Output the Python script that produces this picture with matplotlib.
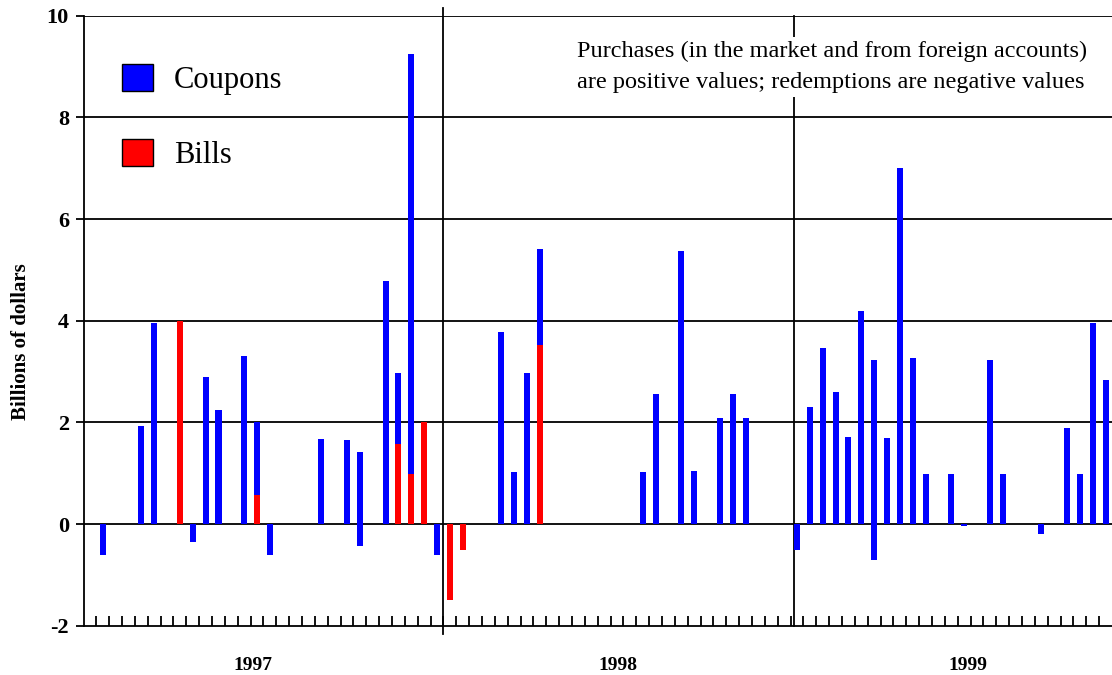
import matplotlib
matplotlib.use("Agg")
import matplotlib.pyplot as plt
from matplotlib.patches import Patch
import numpy as np

# ---- data (period index -> value, billions of dollars) ----
n_periods = 80
# coupon purchases (positive), stacked on top of bill purchases
coupon_pos = {4: 1.92, 5: 3.96, 9: 2.90, 10: 2.24, 12: 3.30, 13: 1.42, 18: 1.68,
              20: 1.65, 21: 1.41, 23: 4.79, 24: 1.41, 25: 8.26,
              32: 3.77, 33: 1.02, 34: 2.98, 35: 1.89, 43: 1.02, 44: 2.55,
              46: 5.38, 47: 1.05, 49: 2.08, 50: 2.55, 51: 2.08,
              56: 2.31, 57: 3.46, 58: 2.59, 59: 1.72, 60: 4.20, 61: 3.22,
              62: 1.69, 63: 7.00, 64: 3.26, 65: 0.98, 67: 0.98, 70: 3.22,
              71: 0.98, 76: 1.88, 77: 0.98, 78: 3.96, 79: 2.83}
# coupon redemptions (negative)
coupon_neg = {1: -0.60, 8: -0.36, 14: -0.60, 21: -0.44, 27: -0.60,
              55: -0.52, 61: -0.71, 68: -0.04, 74: -0.20}
# bill purchases (positive)
bill_pos = {7: 4.00, 13: 0.58, 24: 1.57, 25: 0.98, 26: 2.00, 35: 3.53}
# bill redemptions (negative)
bill_neg = {28: -1.50, 29: -0.52}

years = ["1997", "1998", "1999"]
year_breaks = [28, 55.3]
year_label_pos = [13.2, 41.6, 68.8]
y_ticks = [-2, 0, 2, 4, 6, 8, 10]

legend_labels = ["Coupons", "Bills"]
note = ("Purchases (in the market and from foreign accounts)\n"
        "are positive values; redemptions are negative values")

def to_array(d):
    a = np.zeros(n_periods)
    for k, v in d.items():
        a[k] = v
    return a

cp = to_array(coupon_pos)
cn = to_array(coupon_neg)
bp = to_array(bill_pos)
bn = to_array(bill_neg)
x = np.arange(n_periods) + 0.5

BLUE = "#0000ff"
RED = "#ff0000"
SERIF = ["Liberation Serif", "DejaVu Serif"]
plt.rcParams["font.family"] = SERIF
LW = 1.3

fig = plt.figure(figsize=(11.12, 6.75), dpi=100)
ax = fig.add_axes([83.5 / 1112, 49.3 / 675, 1028.5 / 1112, 610.0 / 675])

w = 0.47
# gridlines
for yv in y_ticks[1:]:
    ax.axhline(yv, color="black", lw=LW, zorder=1)

ax.bar(x, bp, width=w, color=RED, zorder=3, linewidth=0)
ax.bar(x, cp, width=w, bottom=bp, color=BLUE, zorder=3, linewidth=0)
ax.bar(x, bn, width=w, color=RED, zorder=3, linewidth=0)
ax.bar(x, cn, width=w, bottom=bn, color=BLUE, zorder=3, linewidth=0)

# year dividers
ax.plot([year_breaks[0]] * 2, [-2.17, 10.15], color="black", lw=LW,
        clip_on=False, zorder=2)
ax.plot([year_breaks[1]] * 2, [-2.0, 10.0], color="black", lw=LW,
        clip_on=False, zorder=2)

ax.set_xlim(0, n_periods)
ax.set_ylim(-2, 10)

ax.spines["top"].set_visible(False)
ax.spines["right"].set_visible(False)
ax.spines["left"].set_linewidth(LW)
ax.spines["bottom"].set_linewidth(LW)

ax.set_yticks(y_ticks)
ax.set_yticklabels([str(v) for v in y_ticks], fontsize=16, fontweight="bold")
ax.tick_params(axis="y", direction="out", length=5.5, width=LW, pad=5)
ax.set_xticks(np.arange(1, n_periods))
ax.set_xticklabels([])
ax.tick_params(axis="x", direction="in", length=7, width=LW)

for lab, xp in zip(years, year_label_pos):
    ax.text(xp, -0.066, lab, transform=ax.get_xaxis_transform(),
            ha="center", va="center", fontsize=14, fontweight="bold")

fig.text(21.0 / 1112, 1 - 342 / 675, "Billions of dollars", rotation=90,
         ha="center", va="center", fontsize=15, fontweight="bold")

handles = [Patch(facecolor=BLUE, edgecolor="black", linewidth=1.0),
           Patch(facecolor=RED, edgecolor="black", linewidth=1.0)]
ax.legend(handles, legend_labels, loc="upper left",
          bbox_to_anchor=(0.0374, 0.921), frameon=False, fontsize=22,
          handlelength=1.0, handleheight=1.0, handletextpad=0.7,
          labelspacing=1.43, borderpad=0, borderaxespad=0)

ax.text(0.728, 0.9165, note, transform=ax.transAxes, ha="center", va="center",
        multialignment="left", fontsize=17.5, linespacing=1.6, zorder=4,
        bbox=dict(facecolor="white", edgecolor="none", pad=3))

fig.savefig("out.png", dpi=100)
